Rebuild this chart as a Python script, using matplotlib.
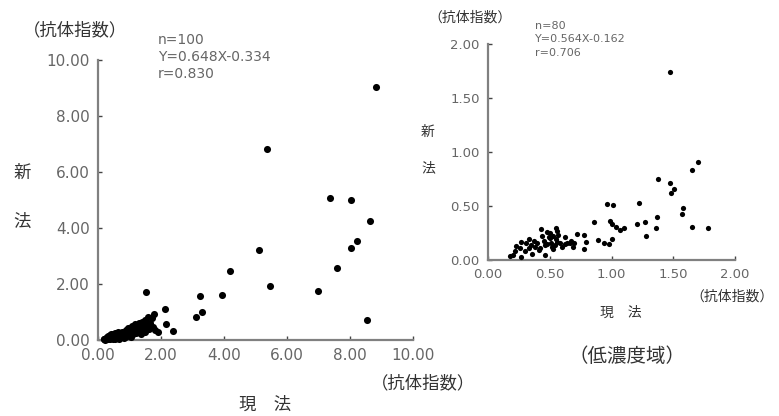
import matplotlib
matplotlib.use("Agg")
import matplotlib.pyplot as plt
from matplotlib.ticker import FormatStrFormatter

plt.rcParams['font.family'] = ['DejaVu Sans', 'Noto Sans CJK JP']

# ---- Left plot data (n=100) ----
left_x = [8.83, 5.35, 7.37, 8.02, 8.62, 8.22, 8.02, 7.60, 6.98, 8.55, 5.12, 4.19, 5.47, 3.95,
          3.24, 3.29, 3.10, 1.52, 2.13, 2.16, 2.38, 1.77,
          0.18, 0.20, 0.22, 0.25, 0.27, 0.28, 0.30, 0.32, 0.33, 0.35,
          0.37, 0.38, 0.40, 0.42, 0.43, 0.45, 0.47, 0.48, 0.50, 0.52,
          0.53, 0.55, 0.57, 0.58, 0.60, 0.62, 0.63, 0.65, 0.67, 0.68,
          0.70, 0.72, 0.73, 0.75, 0.77, 0.78, 0.80, 0.82, 0.84, 0.85,
          0.87, 0.88, 0.90, 0.92, 0.94, 0.96, 0.98, 1.00, 1.02, 1.04,
          1.06, 1.08, 1.10, 1.12, 1.14, 1.16, 1.18, 1.20, 1.22, 1.25,
          1.28, 1.30, 1.32, 1.35, 1.38, 1.40, 1.42, 1.45, 1.48, 1.50,
          1.55, 1.58, 1.62, 1.66, 1.70, 1.75, 1.82, 1.90]
left_y = [9.05, 6.81, 5.07, 4.99, 4.25, 3.54, 3.27, 2.57, 1.75, 0.70, 3.21, 2.46, 1.92, 1.61,
          1.57, 0.99, 0.82, 1.71, 1.10, 0.57, 0.33, 0.92,
          0.02, 0.05, 0.00, 0.08, 0.03, 0.12, 0.06, 0.15, 0.02, 0.09,
          0.18, 0.04, 0.12, 0.20, 0.07, 0.15, 0.03, 0.22, 0.10, 0.18,
          0.05, 0.25, 0.13, 0.20, 0.08, 0.16, 0.27, 0.11, 0.20, 0.05,
          0.14, 0.24, 0.09, 0.18, 0.30, 0.12, 0.21, 0.06, 0.16, 0.27,
          0.10, 0.35, 0.20, 0.14, 0.28, 0.42, 0.18, 0.32, 0.24, 0.12,
          0.38, 0.50, 0.28, 0.20, 0.44, 0.33, 0.58, 0.25, 0.40, 0.52,
          0.35, 0.62, 0.28, 0.48, 0.20, 0.66, 0.40, 0.55, 0.72, 0.30,
          0.48, 0.82, 0.38, 0.60, 0.78, 0.45, 0.35, 0.30]

# ---- Right plot data (n=80, low concentration range) ----
right_x = [1.47, 1.70, 1.65, 1.38, 1.47, 1.51, 1.48, 1.22, 0.96, 1.01, 1.58, 1.57, 1.37, 0.86,
           0.99, 1.21, 1.27, 1.00, 1.04, 1.10, 1.07, 1.36, 1.65, 1.78, 1.28, 1.00, 0.89, 0.94,
           0.98, 0.72, 0.78, 0.79, 0.78, 0.67, 0.69,
           0.43, 0.56, 0.50, 0.57, 0.49, 0.33, 0.27, 0.37, 0.56, 0.23, 0.33, 0.26, 0.52, 0.60,
           0.46, 0.41, 0.38, 0.18, 0.27, 0.46,
           0.20, 0.30, 0.35, 0.40, 0.42, 0.45, 0.48, 0.50, 0.51, 0.53, 0.54, 0.55, 0.58, 0.62,
           0.64, 0.66, 0.70, 0.53, 0.44, 0.31, 0.48, 0.55, 0.62, 0.22, 0.36]
right_y = [1.74, 0.91, 0.83, 0.75, 0.71, 0.66, 0.62, 0.53, 0.52, 0.51, 0.48, 0.43, 0.40, 0.35,
           0.36, 0.33, 0.35, 0.33, 0.31, 0.30, 0.28, 0.30, 0.31, 0.30, 0.22, 0.19, 0.185, 0.16,
           0.15, 0.24, 0.23, 0.17, 0.10, 0.18, 0.12,
           0.29, 0.27, 0.25, 0.23, 0.21, 0.19, 0.17, 0.18, 0.17, 0.13, 0.11, 0.11, 0.12, 0.12,
           0.14, 0.09, 0.12, 0.04, 0.03, 0.05,
           0.05, 0.08, 0.14, 0.16, 0.11, 0.18, 0.15, 0.20, 0.16, 0.22, 0.14, 0.19, 0.16, 0.15,
           0.16, 0.16, 0.16, 0.10, 0.22, 0.16, 0.26, 0.30, 0.21, 0.08, 0.06]

left_ticks = [0, 2, 4, 6, 8, 10]
right_ticks = [0, 0.5, 1.0, 1.5, 2.0]

CJK = ['Noto Sans CJK JP', 'DejaVu Sans']
AXC = '#808080'
TXC = '#666666'

fig = plt.figure(figsize=(7.79, 4.16), dpi=100)


def style(ax, ticks, fs):
    for s in ['top', 'right']:
        ax.spines[s].set_visible(False)
    for s in ['left', 'bottom']:
        ax.spines[s].set_color(AXC)
        ax.spines[s].set_linewidth(1.6)
    ax.set_xticks(ticks)
    ax.set_yticks(ticks)
    ax.xaxis.set_major_formatter(FormatStrFormatter('%.2f'))
    ax.yaxis.set_major_formatter(FormatStrFormatter('%.2f'))
    ax.tick_params(direction='in', length=3, width=1, color='#444444',
                   labelsize=fs, labelcolor=TXC, pad=6)
    ax.set_facecolor('none')


# Left axes
axL = fig.add_axes([98 / 779, 76 / 416, 315 / 779, 280 / 416])
axL.scatter(left_x, left_y, s=26, color='black', linewidths=0, zorder=3, clip_on=False)
axL.set_xlim(0, 10)
axL.set_ylim(0, 10)
style(axL, left_ticks, 11)

# Right axes
axR = fig.add_axes([488 / 779, 156 / 416, 247 / 779, 216 / 416])
axR.scatter(right_x, right_y, s=14, color='black', linewidths=0, zorder=3, clip_on=False)
axR.set_xlim(0, 2)
axR.set_ylim(0, 2)
style(axR, right_ticks, 9.5)


def px(x, y, s, fs, ha='left', va='center', color='#333333', family=CJK):
    fig.text(x / 779, 1 - y / 416, s, fontsize=fs, ha=ha, va=va, color=color, family=family)


# Left texts
px(75, 30, '（抗体指数）', 12.5, ha='center')
px(158, 40, 'n=100', 10, color=TXC, family=['DejaVu Sans'])
px(158, 57, 'Y=0.648X-0.334', 10, color=TXC, family=['DejaVu Sans'])
px(158, 74, 'r=0.830', 10, color=TXC, family=['DejaVu Sans'])
px(22, 173, '新', 12.5, ha='center')
px(22, 222, '法', 12.5, ha='center')
px(423, 383, '（抗体指数）', 12.5, ha='center')
px(265, 405, '現　法', 12.5, ha='center')

# Right texts
px(470, 18, '（抗体指数）', 10, ha='center')
px(535, 26, 'n=80', 8, color=TXC, family=['DejaVu Sans'])
px(535, 39, 'Y=0.564X-0.162', 8, color=TXC, family=['DejaVu Sans'])
px(535, 53, 'r=0.706', 8, color=TXC, family=['DejaVu Sans'])
px(428, 132, '新', 10, ha='center')
px(428, 168, '法', 10, ha='center')
px(774, 297, '（抗体指数）', 10, ha='right')
px(621, 313, '現　法', 10, ha='center')
px(627, 356, '（低濃度域）', 14, ha='center')

fig.savefig('out.png', dpi=100)
